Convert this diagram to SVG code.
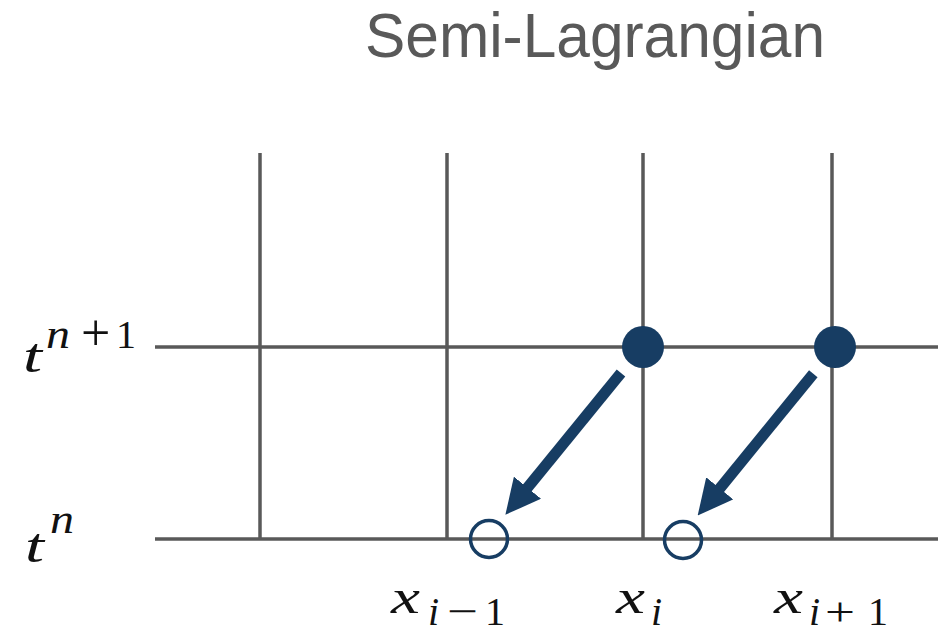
<svg xmlns="http://www.w3.org/2000/svg" width="940" height="634" viewBox="0 0 940 634">
  <style>
    .grid { stroke: #595959; stroke-width: 3.5; fill: none; }
    .title { font-family: "Liberation Sans", Arial, sans-serif; font-size: 63px; fill: #595959; }
    .m { font-family: "Liberation Serif", "DejaVu Serif", serif; font-style: italic; fill: #111; }
    .r { font-family: "Liberation Serif", "DejaVu Serif", serif; fill: #111; }
    .big { font-size: 48px; }
    .sub { font-size: 40px; }
    .op { font-size: 52px; }
    .sop { font-size: 41px; }
    .dot { fill: #173d63; }
    .ring { fill: none; stroke: #173d63; stroke-width: 3.5; }
    .arrow { stroke: #173d63; stroke-width: 11; fill: none; marker-end: url(#head); }
  </style>
  <defs>
    <marker id="head" markerUnits="userSpaceOnUse" viewBox="0 0 35 35" markerWidth="35" markerHeight="35" refX="3" refY="17.5" orient="auto">
      <path d="M0,0 L35,17.5 L0,35 Z" fill="#173d63"/>
    </marker>
  </defs>

  <text id="title" class="title" x="595" y="57" text-anchor="middle" textLength="460" lengthAdjust="spacingAndGlyphs">Semi-Lagrangian</text>

  <g id="grid">
    <line class="grid" x1="155" y1="347" x2="938" y2="347"/>
    <line class="grid" x1="155" y1="539" x2="938" y2="539"/>
    <line class="grid" x1="260" y1="153" x2="260" y2="539"/>
    <line class="grid" x1="447" y1="153" x2="447" y2="539"/>
    <line class="grid" x1="643" y1="153" x2="643" y2="539"/>
    <line class="grid" x1="832" y1="153" x2="832" y2="539"/>
  </g>

  <g id="node-xi-n1"><circle class="dot" cx="643" cy="347" r="21"/></g>
  <g id="node-xi1-n1"><circle class="dot" cx="835" cy="347" r="21"/></g>
  <g id="node-dep1"><circle class="ring" cx="489" cy="539" r="18.5"/></g>
  <g id="node-dep2"><circle class="ring" cx="683" cy="540" r="18.5"/></g>

  <g id="connectors">
    <line class="arrow" x1="621" y1="373" x2="525.6" y2="490.0"/>
    <line class="arrow" x1="813.3" y1="373.7" x2="717.9" y2="490.7"/>
  </g>

  <g id="labels">
    <g id="label-tn1">
      <text class="m big" x="23" y="372" textLength="19" lengthAdjust="spacingAndGlyphs">t</text>
      <text class="m sub" x="46" y="348" textLength="24" lengthAdjust="spacingAndGlyphs">n</text>
      <text class="r op" x="81" y="350">+</text>
      <text class="r sub" x="116" y="348">1</text>
    </g>
    <g id="label-tn">
      <text class="m big" x="25" y="562" textLength="19" lengthAdjust="spacingAndGlyphs">t</text>
      <text class="m sub" x="50" y="533" textLength="24" lengthAdjust="spacingAndGlyphs">n</text>
    </g>
    <g id="label-xim1">
      <text class="m big" x="391" y="613" textLength="29" lengthAdjust="spacingAndGlyphs">x</text>
      <text class="m sub" x="428" y="625">i</text>
      <text class="r sop" x="447" y="625" textLength="31" lengthAdjust="spacingAndGlyphs">−</text>
      <text class="r sub" x="485" y="625">1</text>
    </g>
    <g id="label-xi">
      <text class="m big" x="616" y="613" textLength="29" lengthAdjust="spacingAndGlyphs">x</text>
      <text class="m sub" x="651" y="625">i</text>
    </g>
    <g id="label-xip1">
      <text class="m big" x="774" y="613" textLength="29" lengthAdjust="spacingAndGlyphs">x</text>
      <text class="m sub" x="809" y="625">i</text>
      <text class="r sop" x="825" y="625" textLength="30" lengthAdjust="spacingAndGlyphs">+</text>
      <text class="r sub" x="868" y="625">1</text>
    </g>
  </g>
</svg>
